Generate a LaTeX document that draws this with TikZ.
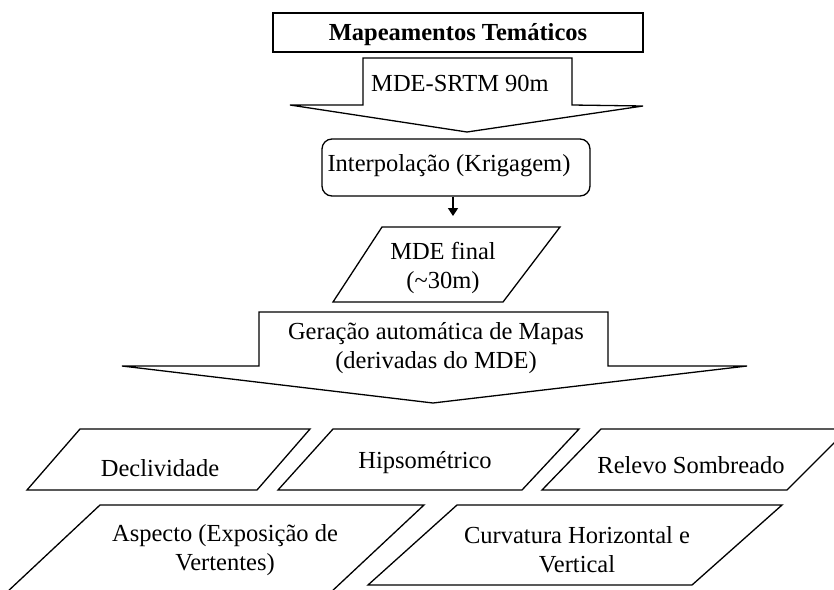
\documentclass[tikz,border=0pt]{standalone}
\usepackage{fontspec}
\setmainfont{Liberation Serif}
\usetikzlibrary{arrows.meta}
\begin{document}
\begin{tikzpicture}[x=1pt,y=-1pt,
  shp/.style={draw=black, line width=1.3pt, line join=miter},
  lbl/.style={font=\fontsize{24.5}{29}\selectfont, align=center, inner sep=0pt},
  ttl/.style={font=\fontsize{24.5}{29}\selectfont\bfseries, align=center, inner sep=0pt},
  conn/.style={draw=black, line width=1.6pt, -{Triangle[length=8pt,width=10pt]}},
]
\useasboundingbox (0,0) rectangle (834,589);
\clip (0,0) rectangle (834,589);

% title
\draw[shp] (273,13) rectangle (643,52);
\node[ttl] (title) at (458,35) {Mapeamentos Temáticos};

% block arrow 1
\draw[shp] (363,58) -- (572,58) -- (572,105) -- (643,106) -- (467,132) -- (290,105) -- (363,105) -- cycle;
\node[lbl] (srtm) at (460,83) {MDE-SRTM 90m};

% interpolation box
\node[shp, rounded corners=10pt, minimum width=268pt, minimum height=57pt, inner sep=0pt] (interp) at (456,167.5) {};
\node[lbl] (interptxt) at (449,166) {Interpolação (Krigagem)};

% connector
\coordinate (tipA) at (453,216);
\draw[conn] (interp.south -| tipA) -- (tipA);

% MDE final
\draw[shp] (382,227) -- (560,227) -- (503,302) -- (333,302) -- cycle;
\node[lbl] (mdefinal) at (443,268) {MDE final\\(\textasciitilde30m)};

% block arrow 2
\draw[shp] (259,312) -- (608,312) -- (608,366) -- (747,366) -- (433,403) -- (122,366) -- (259,366) -- cycle;
\node[lbl] (geracao) at (436,348) {Geração automática de Mapas\\(derivadas do MDE)};

% row 1
\draw[shp] (80,429) -- (310,429) -- (257,490) -- (27,490) -- cycle;
\node[lbl] (decl) at (160,468) {Declividade};
\draw[shp] (333,429) -- (579,429) -- (522,490) -- (278,490) -- cycle;
\node[lbl] (hips) at (425,463) {Hipsométrico};
\draw[shp] (601,429) -- (848,429) -- (787,490) -- (542,490) -- cycle;
\node[lbl] (relevo) at (691,465) {Relevo Sombreado};

% row 2
\draw[shp] (100,505) -- (424,505) -- (330,593) -- (6,593) -- cycle;
\node[lbl] (aspecto) at (225,550) {Aspecto (Exposição de\\Vertentes)};
\draw[shp] (457,505) -- (782,505) -- (692,585) -- (368,585) -- cycle;
\node[lbl] (curv) at (577,550) {Curvatura Horizontal e\\Vertical};
\end{tikzpicture}
\end{document}
